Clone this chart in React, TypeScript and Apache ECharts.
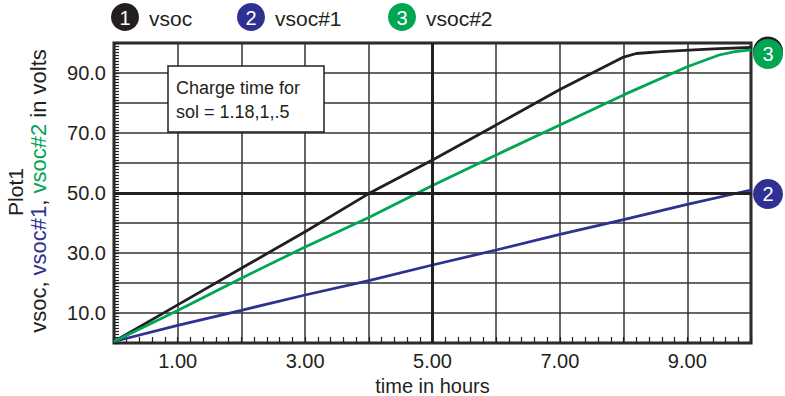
import React, { useEffect, useRef } from 'react';
import * as echarts from 'echarts';

const FONT = '"Liberation Sans", Arial, Helvetica, sans-serif';
const INK = '#231f20';
const BLUE = '#2e3192';
const GREEN = '#00a651';

// Battery state of charge (volts) over charge time (hours)
const vsocHours = [0, 1, 2, 3, 4, 5, 6, 7, 8, 8.2, 8.6, 9.1, 9.5, 10];
const vsoc = [0.5, 12.7, 24.9, 37.1, 49.8, 61.0, 72.7, 84.5, 95.3, 96.5, 97.1, 97.7, 98.1, 98.5];

const vsoc1Hours = [0, 1, 2, 3, 4, 5, 6, 7, 8, 9, 10];
const vsoc1 = [0.5, 5.9, 10.9, 16.0, 20.8, 26.0, 31.0, 36.2, 41.1, 46.2, 51.0];

const vsoc2Hours = [0, 1, 2, 3, 4, 5, 6, 7, 8, 9, 9.5, 9.75, 10];
const vsoc2 = [0.5, 10.8, 21.6, 32.0, 41.8, 52.5, 62.7, 72.7, 82.7, 92.1, 96.0, 97.1, 97.7];

const xLabelHours = [1, 3, 5, 7, 9];
const yLabelVolts = [10, 30, 50, 70, 90];
const centerHour = 5;
const centerVolt = 50;

const legendNames = ['vsoc', 'vsoc#1', 'vsoc#2'];
const legendColors = [INK, BLUE, GREEN];
const noteLines = ['Charge time for', 'sol = 1.18,1,.5'];

const pairs = (xs: number[], ys: number[]) => xs.map((x, i) => [x, ys[i]]);

function lineSeries(name: string, color: string, xs: number[], ys: number[], tag: string, extra: any = {}) {
  return {
    type: 'line',
    name,
    data: pairs(xs, ys),
    symbol: 'none',
    showSymbol: false,
    lineStyle: { color, width: 2.8 },
    itemStyle: { color },
    markPoint: {
      silent: true,
      symbol: 'circle',
      symbolSize: 30,
      symbolOffset: [17, 4],
      itemStyle: { color },
      label: { show: tag !== '', color: '#fff', fontSize: 20, fontFamily: FONT, formatter: tag },
      data: [{ coord: [xs[xs.length - 1], ys[ys.length - 1]] }],
    },
    ...extra,
  };
}

export default function App() {
  const ref = useRef<HTMLDivElement>(null);

  useEffect(() => {
    const chart = echarts.init(ref.current!, null, { renderer: 'svg' });

    const legendX = [125, 251, 402];
    const legendGraphics: any[] = [];
    legendNames.forEach((name, i) => {
      legendGraphics.push({
        type: 'circle',
        shape: { cx: legendX[i], cy: 17, r: 14 },
        style: { fill: legendColors[i] },
      });
      legendGraphics.push({
        type: 'text',
        x: legendX[i],
        y: 18,
        style: {
          text: String(i + 1),
          fill: '#fff',
          font: `20px ${FONT}`,
          align: 'center',
          verticalAlign: 'middle',
        },
      });
      legendGraphics.push({
        type: 'text',
        x: legendX[i] + 24,
        y: 18,
        style: {
          text: name,
          fill: INK,
          font: `21px ${FONT}`,
          align: 'left',
          verticalAlign: 'middle',
        },
      });
    });

    const option: any = {
      animation: false,
      backgroundColor: '#fff',
      grid: {
        left: 114,
        top: 43,
        width: 637,
        height: 300,
        containLabel: false,
        outerBoundsMode: 'none',
        show: true,
        borderColor: INK,
        borderWidth: 3,
        backgroundColor: 'transparent',
      },
      xAxis: {
        type: 'value',
        min: 0,
        max: 10,
        interval: 1,
        name: 'time in hours',
        nameLocation: 'middle',
        nameGap: 30,
        nameTextStyle: { fontSize: 20, fontFamily: FONT, color: INK },
        axisLine: { show: false },
        axisTick: { show: true, inside: true, length: 6, lineStyle: { color: INK, width: 1.2 } },
        minorTick: { show: true, splitNumber: 5, length: 6, lineStyle: { color: INK, width: 1.2 } },
        splitLine: { show: true, lineStyle: { color: '#333', width: 1.5 } },
        axisLabel: {
          margin: 8,
          fontSize: 20,
          fontFamily: FONT,
          color: INK,
          formatter: (v: number) => (xLabelHours.includes(v) ? v.toFixed(2) : ''),
        },
      },
      yAxis: {
        type: 'value',
        min: 0,
        max: 100,
        interval: 10,
        axisLine: { show: false },
        axisTick: { show: true, inside: true, length: 5, lineStyle: { color: INK, width: 1.2 } },
        minorTick: { show: true, splitNumber: 10, length: 5, lineStyle: { color: INK, width: 1.2 } },
        splitLine: { show: true, lineStyle: { color: '#333', width: 1.5 } },
        axisLabel: {
          margin: 8,
          fontSize: 20,
          fontFamily: FONT,
          color: INK,
          formatter: (v: number) => (yLabelVolts.includes(v) ? v.toFixed(1) : ''),
        },
      },
      series: [
        lineSeries('vsoc', INK, vsocHours, vsoc, '', {
          markLine: {
            silent: true,
            symbol: ['none', 'none'],
            label: { show: false },
            lineStyle: { color: INK, width: 3, type: 'solid' },
            data: [{ xAxis: centerHour }, { yAxis: centerVolt }],
          },
        }),
        lineSeries('vsoc#1', BLUE, vsoc1Hours, vsoc1, '2'),
        lineSeries('vsoc#2', GREEN, vsoc2Hours, vsoc2, '3'),
      ],
      graphic: [
        ...legendGraphics,
        {
          type: 'rect',
          shape: { x: 168, y: 66, width: 156, height: 66 },
          style: { fill: '#fff', stroke: INK, lineWidth: 1.5 },
          z: 10,
        },
        {
          type: 'text',
          x: 176,
          y: 88,
          z: 11,
          style: { text: noteLines[0], fill: INK, font: `18px ${FONT}`, verticalAlign: 'middle' },
        },
        {
          type: 'text',
          x: 176,
          y: 112,
          z: 11,
          style: { text: noteLines[1], fill: INK, font: `18px ${FONT}`, verticalAlign: 'middle' },
        },
        {
          type: 'text',
          x: 15,
          y: 192,
          rotation: Math.PI / 2,
          style: { text: 'Plot1', fill: INK, font: `21px ${FONT}`, align: 'center', verticalAlign: 'middle' },
        },
        {
          type: 'text',
          x: 38,
          y: 191,
          rotation: Math.PI / 2,
          style: {
            text: '{k|vsoc, }{b|vsoc#1}{k|, }{g|vsoc#2}{k| in volts}',
            align: 'center',
            verticalAlign: 'middle',
            rich: {
              k: { fill: INK, fontSize: 22, fontFamily: FONT },
              b: { fill: BLUE, fontSize: 22, fontFamily: FONT },
              g: { fill: GREEN, fontSize: 22, fontFamily: FONT },
            },
          },
        },
      ],
    };

    chart.setOption(option);
    return () => chart.dispose();
  }, []);

  return (
    <div
      ref={ref}
      style={{ position: 'fixed', left: 0, top: 0, width: 785, height: 396, background: '#fff' }}
    />
  );
}
